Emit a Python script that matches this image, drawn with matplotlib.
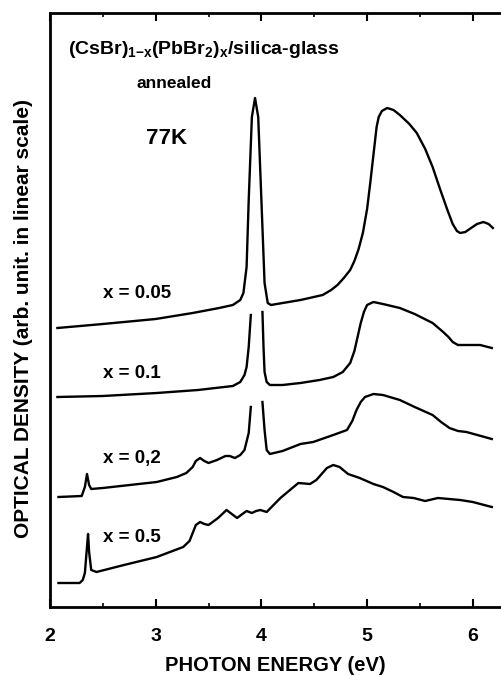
import numpy as np
import matplotlib
matplotlib.use("Agg")
import matplotlib.pyplot as plt
from matplotlib.ticker import MultipleLocator

plt.rcParams['font.family'] = ['Liberation Sans', 'DejaVu Sans']
plt.rcParams['mathtext.fontset'] = 'custom'
plt.rcParams['mathtext.rm'] = 'Liberation Sans:bold'
plt.rcParams['mathtext.it'] = 'Liberation Sans:bold'
plt.rcParams['mathtext.bf'] = 'Liberation Sans:bold'

nan = np.nan
# x = 0.05
e005 = [2.07, 2.5, 3.0, 3.35, 3.6, 3.73, 3.80, 3.83, 3.86, 3.88, 3.91, 3.94, 3.97, 4.00, 4.03, 4.06, 4.09,
        4.37, 4.58, 4.66, 4.72, 4.78, 4.84, 4.88, 4.92, 4.96, 5.00, 5.03, 5.06, 5.09, 5.11, 5.14, 5.19,
        5.25, 5.31, 5.40, 5.47, 5.55, 5.62, 5.69, 5.76, 5.81, 5.85, 5.88, 5.93, 5.97, 6.04, 6.10, 6.15, 6.19]
od005 = [279, 283, 288, 294, 299, 302, 307, 314, 340, 407, 490, 509, 490, 407, 324, 304, 302,
         307, 312, 317, 322, 329, 337, 346, 358, 374, 398, 424, 452, 480, 490, 496, 499,
         497, 492, 483, 474, 458, 440, 418, 397, 383, 376, 374, 375, 378, 383, 385, 383, 379]
# x = 0.1 (peak clipped)
e01 = [2.07, 2.5, 3.01, 3.4, 3.73, 3.80, 3.84, 3.86, 3.88, 3.90, nan, 4.01, 4.02, 4.03, 4.05, 4.08, 4.2,
       4.37, 4.55, 4.68, 4.77, 4.84, 4.88, 4.91, 4.94, 4.97, 5.00, 5.06, 5.15, 5.31, 5.45, 5.62, 5.72,
       5.77, 5.81, 5.86, 5.94, 6.07, 6.18]
od01 = [210, 211, 214, 217, 221, 225, 232, 240, 260, 292, nan, 295, 260, 235, 225, 222, 222,
        224, 227, 230, 235, 244, 256, 270, 284, 295, 302, 305, 303, 299, 293, 284, 275,
        270, 265, 262, 262, 262, 259]
# x = 0.2 (peak clipped)
e02 = [2.08, 2.30, 2.33, 2.35, 2.37, 2.39, 2.5, 3.01, 3.2, 3.29, 3.35, 3.38, 3.42, 3.46, 3.50, 3.58,
       3.66, 3.70, 3.75, 3.80, 3.84, 3.88, 3.90, nan, 4.01, 4.03, 4.05, 4.08, 4.2, 4.37, 4.49, 4.68,
       4.81, 4.86, 4.90, 4.94, 4.98, 5.06, 5.15, 5.31, 5.45, 5.62, 5.70, 5.78, 5.86, 5.94, 6.18]
od02 = [110, 111, 120, 133, 122, 118, 119, 125, 130, 134, 140, 146, 149, 146, 144, 147,
        151, 151, 149, 152, 157, 174, 200, nan, 205, 177, 157, 153, 156, 163, 165, 172,
        177, 186, 197, 205, 210, 213, 212, 207, 200, 192, 185, 179, 176, 175, 168]
# x = 0.5
e05 = [2.08, 2.28, 2.31, 2.33, 2.35, 2.36, 2.37, 2.39, 2.44, 2.7, 3.01, 3.26, 3.32, 3.35, 3.38, 3.42,
       3.46, 3.50, 3.59, 3.67, 3.72, 3.77, 3.82, 3.86, 3.91, 3.95, 3.99, 4.05, 4.18, 4.35, 4.46, 4.52,
       4.57, 4.62, 4.68, 4.74, 4.82, 4.93, 5.06, 5.15, 5.25, 5.34, 5.44, 5.55, 5.67, 5.88, 6.00, 6.18]
od05 = [24, 24, 27, 34, 60, 73, 55, 37, 35, 42, 50, 60, 66, 74, 82, 85,
        83, 82, 89, 97, 93, 89, 93, 96, 94, 96, 97, 95, 109, 124, 123, 127,
        133, 139, 142, 140, 133, 129, 123, 120, 115, 110, 109, 106, 109, 107, 105, 100]

labels = ["x = 0.05", "x = 0.1", "x = 0,2", "x = 0.5"]
label_y = [314, 234, 149, 70]
xticks = [2, 3, 4, 5, 6]

fig = plt.figure(figsize=(5.01, 6.76), dpi=100)
ax = fig.add_axes([50/501, 69/676, 451/501, 594/676])

for e, od in [(e005, od005), (e01, od01), (e02, od02), (e05, od05)]:
    ax.plot(e, od, color='black', lw=1.7, solid_joinstyle='round')

ax.set_xlim(2.0, 6.267)
ax.set_ylim(0, 594)

for s in ['left', 'bottom', 'top']:
    ax.spines[s].set_linewidth(2.0)
ax.spines['right'].set_visible(False)

ax.set_xticks(xticks)
ax.set_xticklabels([str(t) for t in xticks], fontsize=14, fontweight='bold')
ax.xaxis.set_minor_locator(MultipleLocator(0.5))
ax.tick_params(axis='x', which='major', direction='in', length=6, width=1.5, top=True, pad=15)
ax.tick_params(axis='x', which='minor', direction='in', length=3, width=1.2, top=True)
ax.set_yticks([])

ax.set_xlabel("PHOTON ENERGY (eV)", fontsize=14.5, fontweight='bold', labelpad=8)
ax.set_ylabel("OPTICAL DENSITY (arb. unit. in linear scale)", fontsize=15, fontweight='bold')
ax.yaxis.set_label_coords(-0.038, 0.485)

ax.text(2.17, 557, r"(CsBr)$_{1\mathrm{-}x}$(PbBr$_2$)$_x$/silica-glass", fontsize=14,
        fontweight='bold', ha='left', va='center')
ax.text(3.17, 524, "annealed", fontsize=12.5, fontweight='bold', ha='center', va='center')
ax.text(3.10, 469, "77K", fontsize=16, fontweight='bold', ha='center', va='center')

for lab, y in zip(labels, label_y):
    ax.text(2.50, y, lab, fontsize=13.5, fontweight='bold', ha='left', va='center')

fig.savefig("out.png", dpi=100)
